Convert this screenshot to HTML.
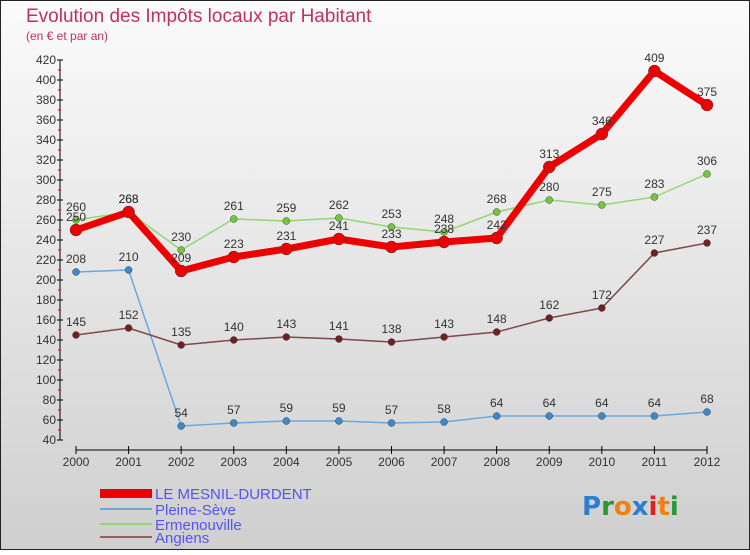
<!DOCTYPE html>
<html><head><meta charset="utf-8"><style>
body{margin:0;}
#c{width:750px;height:550px;position:relative;font-family:"Liberation Sans",sans-serif;}
</style></head><body>
<div id="c">
<svg id="s" width="750" height="550" xmlns="http://www.w3.org/2000/svg">
<defs><linearGradient id="bg" x1="0" y1="0" x2="0" y2="1"><stop offset="0" stop-color="#fbfbfb"/><stop offset="1" stop-color="#cfcfcf"/></linearGradient></defs>
<rect x="0.5" y="0.5" width="749" height="549" fill="url(#bg)" stroke="#222"/>
<text x="26" y="22" font-size="19" fill="#c03060">Evolution des Impôts locaux par Habitant</text>
<text x="26" y="40" font-size="12" fill="#c03060">(en € et par an)</text>
<g id="axes"></g><g id="series"></g>
<g font-size="15" fill="#5555ee">
<rect x="100" y="489" width="52" height="9" fill="#ee0000"/>
<text x="155" y="499">LE MESNIL-DURDENT</text>
<rect x="100" y="508" width="52" height="2" fill="#6fa8d8"/>
<text x="155" y="515">Pleine-Sève</text>
<rect x="100" y="523" width="52" height="2" fill="#90d870"/>
<text x="155" y="530">Ermenouville</text>
<rect x="100" y="536" width="52" height="2" fill="#906060"/>
<text x="155" y="543">Angiens</text>
</g>
<g font-size="26" font-weight="bold" font-family="DejaVu Sans, sans-serif">
<text x="582" y="515"><tspan fill="#2a7fd0">P</tspan><tspan fill="#2a9a30">r</tspan><tspan fill="#f08010">o</tspan><tspan fill="#2a7fd0">x</tspan><tspan fill="#e02020">i</tspan><tspan fill="#f08010">t</tspan><tspan fill="#2a9a30">i</tspan></text>
</g>
</svg></div>
<script>
const years=[2000,2001,2002,2003,2004,2005,2006,2007,2008,2009,2010,2011,2012];
const mesnil=[250,268,209,223,231,241,233,238,242,313,346,409,375];
const pleine=[208,210,54,57,59,59,57,58,64,64,64,64,68];
const ermen=[260,268,230,261,259,262,253,248,268,280,275,283,306];
const angiens=[145,152,135,140,143,141,138,143,148,162,172,227,237];
const yTicks=[40,60,80,100,120,140,160,180,200,220,240,260,280,300,320,340,360,380,400,420];
const NS="http://www.w3.org/2000/svg";
const X=i=>76+i*(707-76)/12, Y=v=>440-(v-40)*(380/380);
function el(t,a,p){const e=document.createElementNS(NS,t);for(const k in a)e.setAttribute(k,a[k]);p.appendChild(e);return e;}
const ax=document.getElementById('axes'),sg=document.getElementById('series');
const ya=el('line',{x1:60,y1:Y(420),x2:60,y2:Y(40),stroke:'#000'},ax);


yTicks.forEach(v=>{
 el('line',{x1:57,y1:Y(v),x2:63,y2:Y(v),stroke:'#000'},ax);
 if(v<420)el('line',{x1:58,y1:Y(v+10),x2:61,y2:Y(v+10),stroke:'#e00'},ax);
 const t=el('text',{x:56,y:Y(v)+4,'font-size':12,'text-anchor':'end',fill:'#333'},ax);t.textContent=v;
 
 
});
const xa=el('line',{x1:X(0),y1:450,x2:X(12),y2:450,stroke:'#000'},ax);


years.forEach((y,i)=>{
 el('line',{x1:X(i),y1:446,x2:X(i),y2:454,stroke:'#000'},ax);
 const t=el('text',{x:X(i),y:466,'font-size':12,'text-anchor':'middle',fill:'#333'},ax);t.textContent=y;
 
 
});
function series(d,col,dot,w,r,name){
 const g=el('g',{},sg);
 
 
 el('polyline',{points:d.map((v,i)=>X(i)+','+Y(v)).join(' '),fill:'none',stroke:col,'stroke-width':w,'stroke-linejoin':'round'},g);
 d.forEach((v,i)=>{
  const c=el('circle',{cx:X(i),cy:Y(v),r:r,fill:dot,stroke:'#444','stroke-width':0.5},g);
  
  
  const t=el('text',{x:X(i),y:Y(v)-9,'font-size':12,'text-anchor':'middle',fill:'#333'},g);t.textContent=v;
  
  
 });
}
series(pleine,'#6fa8d8','#3a8ad0',1.5,3.5,'pleine-seve');
series(angiens,'#804848','#702020',1.5,3.5,'angiens');
series(ermen,'#90d870','#70c840',1.5,3.5,'ermenouville');
series(mesnil,'#ee0000','#ee0000',7,6,'mesnil-durdent');
</script>
</body></html>
